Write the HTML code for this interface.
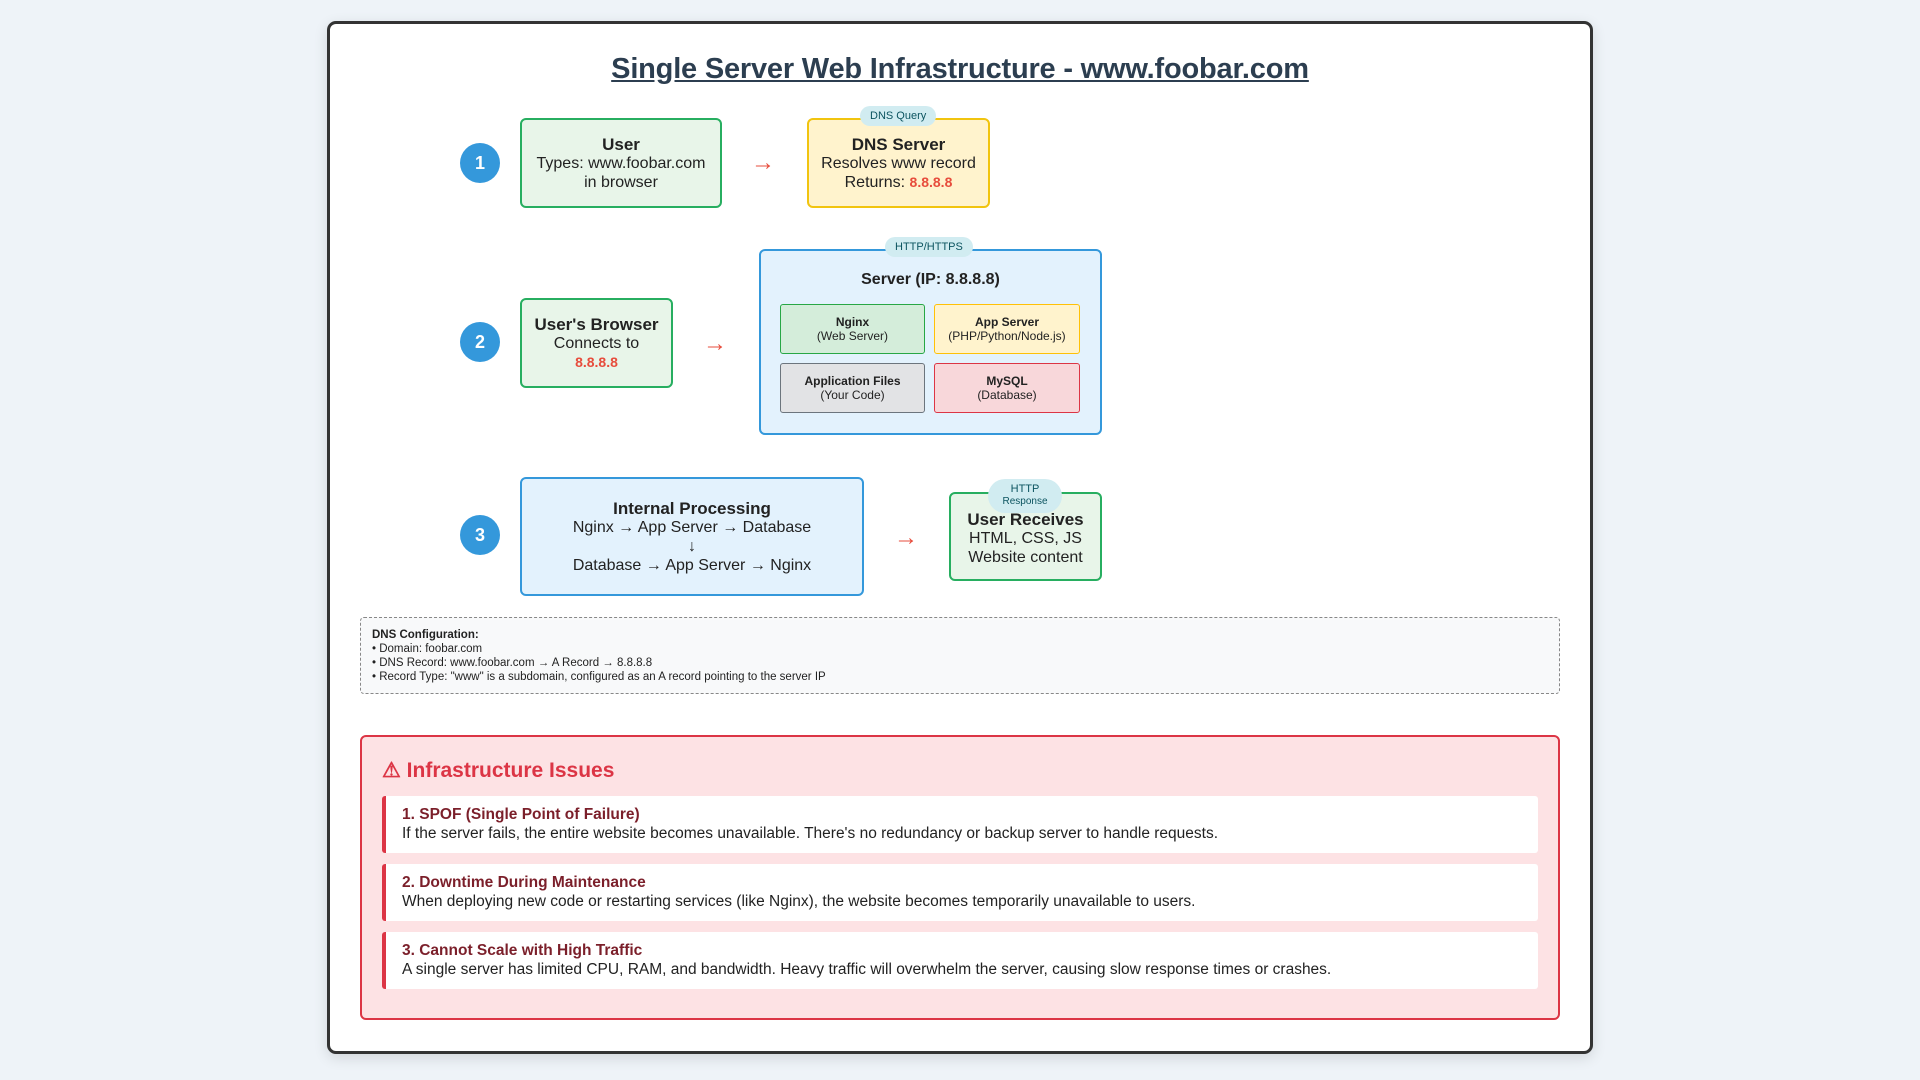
<!DOCTYPE html>
<html><head><meta charset="utf-8"><style>
*{box-sizing:border-box;margin:0;padding:0}
body{width:1920px;height:1080px;background:#eef3f8;font-family:"Liberation Sans",Arial,sans-serif;color:#222;position:relative;overflow:hidden}
.abs{position:absolute}
.wrap{left:327px;top:21px;width:1266px;height:1033px;background:#fff;border:3px solid #333;border-radius:9px;box-shadow:0 4px 14px rgba(0,0,0,.12)}
.title{left:0;top:53px;width:1920px;text-align:center;font-size:29px;font-weight:bold;color:#2c3e50;text-decoration:underline;letter-spacing:-0.2px}
.circ{width:40px;height:40px;border-radius:50%;background:#3498db;color:#fff;font-weight:bold;font-size:18px;display:flex;align-items:center;justify-content:center}
.box{border:2.5px solid;border-radius:6px;display:flex;flex-direction:column;align-items:center;justify-content:center;text-align:center;font-size:16px;line-height:19px}
.box b{font-size:17px}
.g{border-color:#27ae60;background:#e8f5e9}
.y{border-color:#f1c40f;background:#fff3cd}
.b{border-color:#3498db;background:#e3f2fd}
.red{color:#e74c3c;font-weight:bold;font-size:14px}
.arrow{color:#e74c3c;font-size:24px;line-height:24px}
.badge{background:#d1ecf1;color:#0c5460;font-size:11px;border-radius:12px;padding:4px 10px;text-align:center;line-height:12px}
.sub{border:1px solid;border-radius:3px;display:flex;flex-direction:column;align-items:center;justify-content:center;font-size:12px;line-height:14px;text-align:center}
.sub b{font-size:12px}
.cfg{left:360px;top:617px;width:1200px;height:77px;border:1px dashed #888;border-radius:4px;background:#f8f9fa;padding:10px 11px;font-size:11.5px;line-height:14px}
.iss{left:360px;top:735px;width:1200px;height:285px;border:2px solid #dc3545;border-radius:6px;background:#fde2e4}
.iss h2{position:absolute;left:20px;top:21px;color:#dc3545;font-size:21px}
.item{position:absolute;left:20px;width:1156px;height:57px;background:#fff;border-left:4px solid #dc3545;border-radius:3px;padding:9px 16px;font-size:15.5px;line-height:19px}
.item b{color:#7b1f2a;display:block}
</style></head><body>
<div class="abs wrap"></div>
<div class="abs title">Single Server Web Infrastructure - www.foobar.com</div>

<div class="abs circ" style="left:460px;top:143px">1</div>
<div class="abs box g" style="left:520px;top:118px;width:202px;height:90px"><b>User</b>Types: www.foobar.com<br>in browser</div>
<div class="abs arrow" style="left:751px;top:151px">→</div>
<div class="abs box y" style="left:807px;top:118px;width:183px;height:90px"><b>DNS Server</b>Resolves www record<br><span>Returns: <span class="red">8.8.8.8</span></span></div>
<div class="abs badge" style="left:860px;top:106px">DNS Query</div>

<div class="abs circ" style="left:460px;top:322px">2</div>
<div class="abs box g" style="left:520px;top:298px;width:153px;height:90px"><b>User's Browser</b>Connects to<br><span class="red">8.8.8.8</span></div>
<div class="abs arrow" style="left:703px;top:332px">→</div>
<div class="abs box b" style="left:759px;top:249px;width:343px;height:186px;justify-content:flex-start"></div>
<div class="abs badge" style="left:885px;top:237px">HTTP/HTTPS</div>
<div class="abs" style="left:759px;top:271px;width:343px;text-align:center;font-weight:bold;font-size:16px">Server (IP: 8.8.8.8)</div>
<div class="abs sub" style="left:780px;top:304px;width:145px;height:50px;background:#d4edda;border-color:#28a745"><b>Nginx</b>(Web Server)</div>
<div class="abs sub" style="left:934px;top:304px;width:146px;height:50px;background:#fff3cd;border-color:#ffc107"><b>App Server</b>(PHP/Python/Node.js)</div>
<div class="abs sub" style="left:780px;top:363px;width:145px;height:50px;background:#e2e3e5;border-color:#6c757d"><b>Application Files</b>(Your Code)</div>
<div class="abs sub" style="left:934px;top:363px;width:146px;height:50px;background:#f8d7da;border-color:#dc3545"><b>MySQL</b>(Database)</div>

<div class="abs circ" style="left:460px;top:515px">3</div>
<div class="abs box b" style="left:520px;top:477px;width:344px;height:119px"><b>Internal Processing</b>Nginx → App Server → Database<br>↓<br>Database → App Server → Nginx</div>
<div class="abs arrow" style="left:894px;top:526px">→</div>
<div class="abs box g" style="left:949px;top:492px;width:153px;height:89px;padding-top:4px"><b>User Receives</b>HTML, CSS, JS<br>Website content</div>
<div class="abs badge" style="left:988px;top:479px;width:74px;height:34px;border-radius:17px;padding:4px 2px;font-size:11px"><span style="display:block">HTTP</span><span style="font-size:10px">Response</span></div>

<div class="abs cfg"><b>DNS Configuration:</b><br>• Domain: foobar.com<br>• DNS Record: www.foobar.com → A Record → 8.8.8.8<br>• Record Type: "www" is a subdomain, configured as an A record pointing to the server IP</div>

<div class="abs iss">
<h2>⚠ Infrastructure Issues</h2>
<div class="item" style="top:59px"><b>1. SPOF (Single Point of Failure)</b>If the server fails, the entire website becomes unavailable. There's no redundancy or backup server to handle requests.</div>
<div class="item" style="top:127px"><b>2. Downtime During Maintenance</b>When deploying new code or restarting services (like Nginx), the website becomes temporarily unavailable to users.</div>
<div class="item" style="top:195px"><b>3. Cannot Scale with High Traffic</b>A single server has limited CPU, RAM, and bandwidth. Heavy traffic will overwhelm the server, causing slow response times or crashes.</div>
</div>
</body></html>
